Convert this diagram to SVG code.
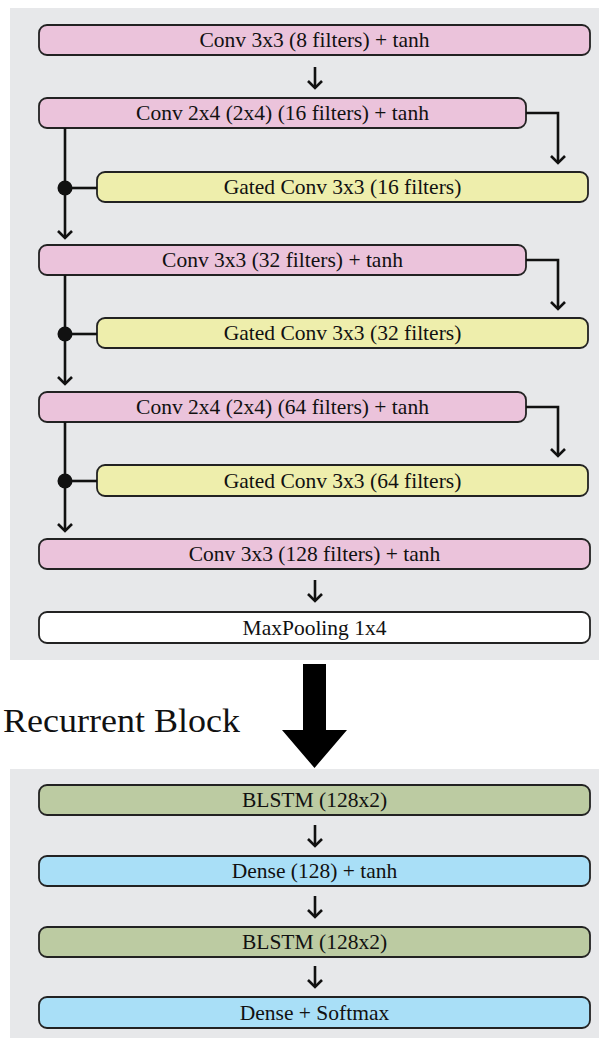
<svg xmlns="http://www.w3.org/2000/svg" width="599" height="1038" viewBox="0 0 599 1038">
<defs>
<marker id="chev" viewBox="-10 -10 20 20" refX="0" refY="0" markerWidth="20" markerHeight="20" markerUnits="userSpaceOnUse" orient="auto" overflow="visible">
<path d="M-7,-7 L0,0 L-7,7" fill="none" stroke="#111" stroke-width="2.6" stroke-linejoin="miter"/>
</marker>
</defs>
<style>
.panel{fill:#e7e8ea}
.box{stroke:#222;stroke-width:1.8}
.pink{fill:#ebc3db}
.yellow{fill:#eeeeac}
.green{fill:#bccba2}
.blue{fill:#a9dff7}
.white{fill:#ffffff}
.lbl{font-family:"Liberation Serif","Times New Roman",serif;font-size:21.5px;fill:#111;text-anchor:middle;dominant-baseline:central}
.title{font-family:"Liberation Serif","Times New Roman",serif;font-size:33px;fill:#111}
.conn{fill:none;stroke:#111;stroke-width:2.6}
.arr{marker-end:url(#chev)}
</style>
<rect class="panel" x="10" y="8" width="589" height="652"/>
<rect class="panel" x="10" y="769" width="589" height="269"/>

<g id="conv1"><rect class="box pink" x="39" y="25" width="551" height="30" rx="8"/><text class="lbl" x="314.5" y="40">Conv 3x3 (8 filters) + tanh</text></g>
<g id="conv2"><rect class="box pink" x="39" y="98" width="487" height="30" rx="8"/><text class="lbl" x="282.5" y="113">Conv 2x4 (2x4) (16 filters) + tanh</text></g>
<g id="gated1"><rect class="box yellow" x="97" y="172" width="491" height="30" rx="8"/><text class="lbl" x="342.5" y="187">Gated Conv 3x3 (16 filters)</text></g>
<g id="conv3"><rect class="box pink" x="39" y="245" width="487" height="30" rx="8"/><text class="lbl" x="282.5" y="260">Conv 3x3 (32 filters) + tanh</text></g>
<g id="gated2"><rect class="box yellow" x="97" y="318" width="491" height="30" rx="8"/><text class="lbl" x="342.5" y="333">Gated Conv 3x3 (32 filters)</text></g>
<g id="conv4"><rect class="box pink" x="39" y="392" width="487" height="30" rx="8"/><text class="lbl" x="282.5" y="407">Conv 2x4 (2x4) (64 filters) + tanh</text></g>
<g id="gated3"><rect class="box yellow" x="97" y="465" width="491" height="31" rx="8"/><text class="lbl" x="342.5" y="480.5">Gated Conv 3x3 (64 filters)</text></g>
<g id="conv5"><rect class="box pink" x="39" y="539" width="551" height="30" rx="8"/><text class="lbl" x="314.5" y="554">Conv 3x3 (128 filters) + tanh</text></g>
<g id="maxpool"><rect class="box white" x="39" y="612" width="551" height="31" rx="8"/><text class="lbl" x="314.5" y="627.5">MaxPooling 1x4</text></g>

<g id="recurrent-label"><text class="title" x="3" y="732" textLength="237" lengthAdjust="spacingAndGlyphs">Recurrent Block</text></g>

<g id="blstm1"><rect class="box green" x="39" y="785" width="551" height="30" rx="8"/><text class="lbl" x="314.5" y="800">BLSTM (128x2)</text></g>
<g id="dense1"><rect class="box blue" x="39" y="856" width="551" height="30" rx="8"/><text class="lbl" x="314.5" y="871">Dense (128) + tanh</text></g>
<g id="blstm2"><rect class="box green" x="39" y="927" width="551" height="30" rx="8"/><text class="lbl" x="314.5" y="942">BLSTM (128x2)</text></g>
<g id="dense2"><rect class="box blue" x="39" y="997" width="551" height="31" rx="8"/><text class="lbl" x="314.5" y="1012.5">Dense + Softmax</text></g>

<g id="connectors">
<line class="conn arr" x1="315" y1="67" x2="315" y2="88"/>
<line class="conn arr" x1="315" y1="580" x2="315" y2="601"/>
<line class="conn arr" x1="315" y1="825" x2="315" y2="846"/>
<line class="conn arr" x1="315" y1="896" x2="315" y2="917"/>
<line class="conn arr" x1="315" y1="966" x2="315" y2="987"/>

<line class="conn arr" x1="65" y1="128" x2="65" y2="238"/>
<line class="conn" x1="65" y1="188" x2="97" y2="188"/>
<circle cx="65" cy="188" r="7.5" fill="#111"/>
<polyline class="conn arr" points="526,113 558,113 558,163"/>

<line class="conn arr" x1="65" y1="275" x2="65" y2="384"/>
<line class="conn" x1="65" y1="334" x2="97" y2="334"/>
<circle cx="65" cy="334" r="7.5" fill="#111"/>
<polyline class="conn arr" points="526,260 558,260 558,309"/>

<line class="conn arr" x1="65" y1="422" x2="65" y2="531"/>
<line class="conn" x1="65" y1="481" x2="97" y2="481"/>
<circle cx="65" cy="481" r="7.5" fill="#111"/>
<polyline class="conn arr" points="526,407 558,407 558,456"/>

<polygon points="303,664 326,664 326,730 347,730 314.5,768 282,730 303,730" fill="#000"/>
</g>
</svg>
